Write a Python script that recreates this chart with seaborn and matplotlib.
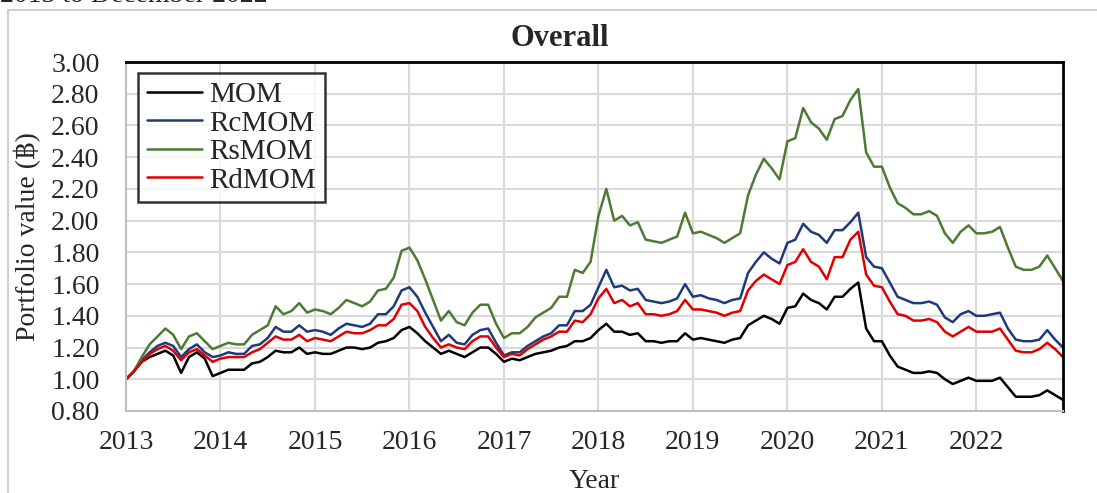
import numpy as np
import pandas as pd
import matplotlib
matplotlib.use("Agg")
import matplotlib.pyplot as plt
from matplotlib.patches import Rectangle
from matplotlib.lines import Line2D
import seaborn as sns

years = ["2013", "2014", "2015", "2016", "2017", "2018", "2019", "2020", "2021", "2022"]
series_names = ["MOM", "RcMOM", "RsMOM", "RdMOM"]

mom = [1.00, 1.05, 1.11, 1.14, 1.16, 1.18, 1.15, 1.04, 1.14, 1.17, 1.13, 1.02, 1.04, 1.06, 1.06, 1.06, 1.10, 1.11, 1.14, 1.18, 1.17,
       1.17, 1.20, 1.16, 1.17, 1.16, 1.16, 1.18, 1.20, 1.20, 1.19, 1.20, 1.23, 1.24, 1.26, 1.31, 1.33, 1.29, 1.24, 1.20, 1.16,
       1.18, 1.16, 1.14, 1.17, 1.20, 1.20, 1.16, 1.11, 1.13, 1.12, 1.14, 1.16, 1.17, 1.18, 1.20, 1.21, 1.24, 1.24, 1.26, 1.31,
       1.35, 1.30, 1.30, 1.28, 1.29, 1.24, 1.24, 1.23, 1.24, 1.24, 1.29, 1.25, 1.26, 1.25, 1.24, 1.23, 1.25, 1.26, 1.34, 1.37,
       1.40, 1.38, 1.35, 1.45, 1.46, 1.54, 1.50, 1.48, 1.44, 1.52, 1.52, 1.57, 1.61, 1.32, 1.24, 1.24, 1.15, 1.08, 1.06, 1.04,
       1.04, 1.05, 1.04, 1.00, 0.97, 0.99, 1.01, 0.99, 0.99, 0.99, 1.01, 0.95, 0.89, 0.89, 0.89, 0.90, 0.93, 0.90, 0.87]

rcmom = [1.00, 1.05, 1.12, 1.17, 1.21, 1.23, 1.21, 1.14, 1.19, 1.22, 1.17, 1.14, 1.15, 1.17, 1.16, 1.16, 1.21, 1.22, 1.26, 1.33, 1.30,
         1.30, 1.34, 1.30, 1.31, 1.30, 1.28, 1.32, 1.35, 1.34, 1.33, 1.35, 1.41, 1.41, 1.46, 1.56, 1.58, 1.52, 1.42, 1.33, 1.24,
         1.28, 1.23, 1.22, 1.28, 1.31, 1.32, 1.23, 1.15, 1.17, 1.17, 1.21, 1.24, 1.27, 1.29, 1.34, 1.34, 1.43, 1.43, 1.47, 1.58,
         1.69, 1.58, 1.59, 1.56, 1.57, 1.50, 1.49, 1.48, 1.49, 1.51, 1.60, 1.52, 1.53, 1.51, 1.50, 1.48, 1.50, 1.51, 1.67, 1.74,
         1.80, 1.76, 1.73, 1.86, 1.88, 1.98, 1.93, 1.91, 1.86, 1.94, 1.94, 1.99, 2.05, 1.77, 1.71, 1.70, 1.61, 1.52, 1.50, 1.48,
         1.48, 1.49, 1.47, 1.39, 1.36, 1.41, 1.43, 1.40, 1.40, 1.41, 1.42, 1.32, 1.25, 1.24, 1.24, 1.25, 1.31, 1.25, 1.20]

rsmom = [1.00, 1.05, 1.14, 1.22, 1.27, 1.32, 1.28, 1.19, 1.27, 1.29, 1.24, 1.19, 1.21, 1.23, 1.22, 1.22, 1.28, 1.31, 1.34, 1.46, 1.41,
         1.43, 1.48, 1.42, 1.44, 1.43, 1.41, 1.45, 1.50, 1.48, 1.46, 1.49, 1.56, 1.57, 1.64, 1.81, 1.83, 1.75, 1.63, 1.50, 1.37,
         1.43, 1.36, 1.34, 1.42, 1.47, 1.47, 1.35, 1.26, 1.29, 1.29, 1.33, 1.39, 1.42, 1.45, 1.52, 1.52, 1.69, 1.67, 1.74, 2.03,
         2.20, 2.00, 2.03, 1.97, 1.99, 1.88, 1.87, 1.86, 1.88, 1.90, 2.05, 1.92, 1.93, 1.91, 1.89, 1.86, 1.89, 1.92, 2.16, 2.29,
         2.39, 2.33, 2.26, 2.50, 2.52, 2.71, 2.62, 2.58, 2.51, 2.64, 2.66, 2.76, 2.83, 2.43, 2.34, 2.34, 2.21, 2.11, 2.08, 2.04,
         2.04, 2.06, 2.03, 1.92, 1.86, 1.93, 1.97, 1.92, 1.92, 1.93, 1.96, 1.83, 1.71, 1.69, 1.69, 1.71, 1.78, 1.70, 1.62]

rdmom = [1.00, 1.05, 1.11, 1.16, 1.19, 1.21, 1.18, 1.12, 1.17, 1.19, 1.15, 1.11, 1.13, 1.14, 1.14, 1.14, 1.17, 1.19, 1.23, 1.27, 1.25,
         1.25, 1.28, 1.24, 1.26, 1.25, 1.24, 1.27, 1.30, 1.29, 1.29, 1.31, 1.34, 1.34, 1.38, 1.47, 1.48, 1.43, 1.33, 1.26, 1.20,
         1.22, 1.20, 1.19, 1.24, 1.27, 1.27, 1.20, 1.14, 1.16, 1.15, 1.19, 1.22, 1.25, 1.27, 1.30, 1.30, 1.37, 1.36, 1.41, 1.51,
         1.57, 1.48, 1.50, 1.46, 1.48, 1.41, 1.41, 1.40, 1.41, 1.43, 1.50, 1.44, 1.44, 1.43, 1.42, 1.40, 1.42, 1.43, 1.56, 1.62,
         1.66, 1.63, 1.60, 1.72, 1.74, 1.82, 1.74, 1.71, 1.63, 1.77, 1.77, 1.88, 1.93, 1.66, 1.59, 1.58, 1.49, 1.41, 1.40, 1.37,
         1.37, 1.38, 1.36, 1.30, 1.27, 1.30, 1.33, 1.30, 1.30, 1.30, 1.32, 1.25, 1.18, 1.17, 1.17, 1.19, 1.23, 1.19, 1.14]

colors = ["#000000", "#1f3a7a", "#4d7a34", "#e00000"]

sns.set_style("white")
serif = ["Liberation Serif", "DejaVu Serif", "DejaVu Sans"]
plt.rcParams["font.family"] = serif

n = len(mom)
months = np.arange(n)
df = pd.DataFrame({
    "month": np.tile(months, 4),
    "value": np.concatenate([mom, rcmom, rsmom, rdmom]),
    "series": np.repeat(series_names, n),
})

W, H = 1097, 493
fig = plt.figure(figsize=(W / 100, H / 100), dpi=100)
ax = fig.add_axes([126 / W, 1 - 411 / H, (1063 - 126) / W, (411 - 62) / H])

sns.lineplot(data=df, x="month", y="value", hue="series", hue_order=series_names,
             palette=colors, linewidth=1.8, ax=ax, legend=False)

yt = np.arange(0.8, 3.0001, 0.2)
ax.set_xlim(0, n - 1)
ax.set_ylim(0.8, 3.0)
ax.set_yticks(yt)
ax.set_yticklabels([f"{v:.2f}" for v in yt], fontsize=20)
ax.set_xticks(np.arange(0, n, 12))
ax.set_xticklabels(years, fontsize=20)
ax.tick_params(axis="y", length=0, pad=19)
ax.tick_params(axis="x", length=0, pad=14)
ax.grid(True, color="#d9d9d9", linewidth=1.5)
ax.set_axisbelow(True)

for side in ["top", "right"]:
    ax.spines[side].set_color("black")
    ax.spines[side].set_linewidth(2)
for side in ["left", "bottom"]:
    ax.spines[side].set_color("#bfbfbf")
    ax.spines[side].set_linewidth(1.5)

ax.set_xlabel("Year", fontsize=20, labelpad=10)
ax.set_ylabel("Portfolio value (฿)", fontsize=20, labelpad=7)
fig.text(560 / W, 1 - 38 / H, "Overall", fontsize=22, fontweight="bold",
         ha="center", va="center")

handles = [Line2D([0], [0], color=c, lw=1.8) for c in colors]
leg = ax.legend(handles, series_names, loc="upper left",
                bbox_to_anchor=((138 - 126) / 937, (411 - 73) / 349),
                borderaxespad=0, fontsize=21, frameon=True, fancybox=False,
                edgecolor="black", handlelength=1.9, handletextpad=0.25,
                labelspacing=0.07, borderpad=0.3)
leg.get_frame().set_linewidth(1.8)

# outer chart area frame and cut-off caption (as in the source image)
fig.patches.append(Rectangle((8 / W, -0.1), 1.2, 1 - 10 / H + 0.1,
                             transform=fig.transFigure, fill=False,
                             edgecolor="#d0d0d0", linewidth=1.5))
fig.text(0.0, 1.0 + 0.035, "2013 to December 2022", fontsize=20, ha="left", va="top")

fig.savefig("out.png", dpi=100)
